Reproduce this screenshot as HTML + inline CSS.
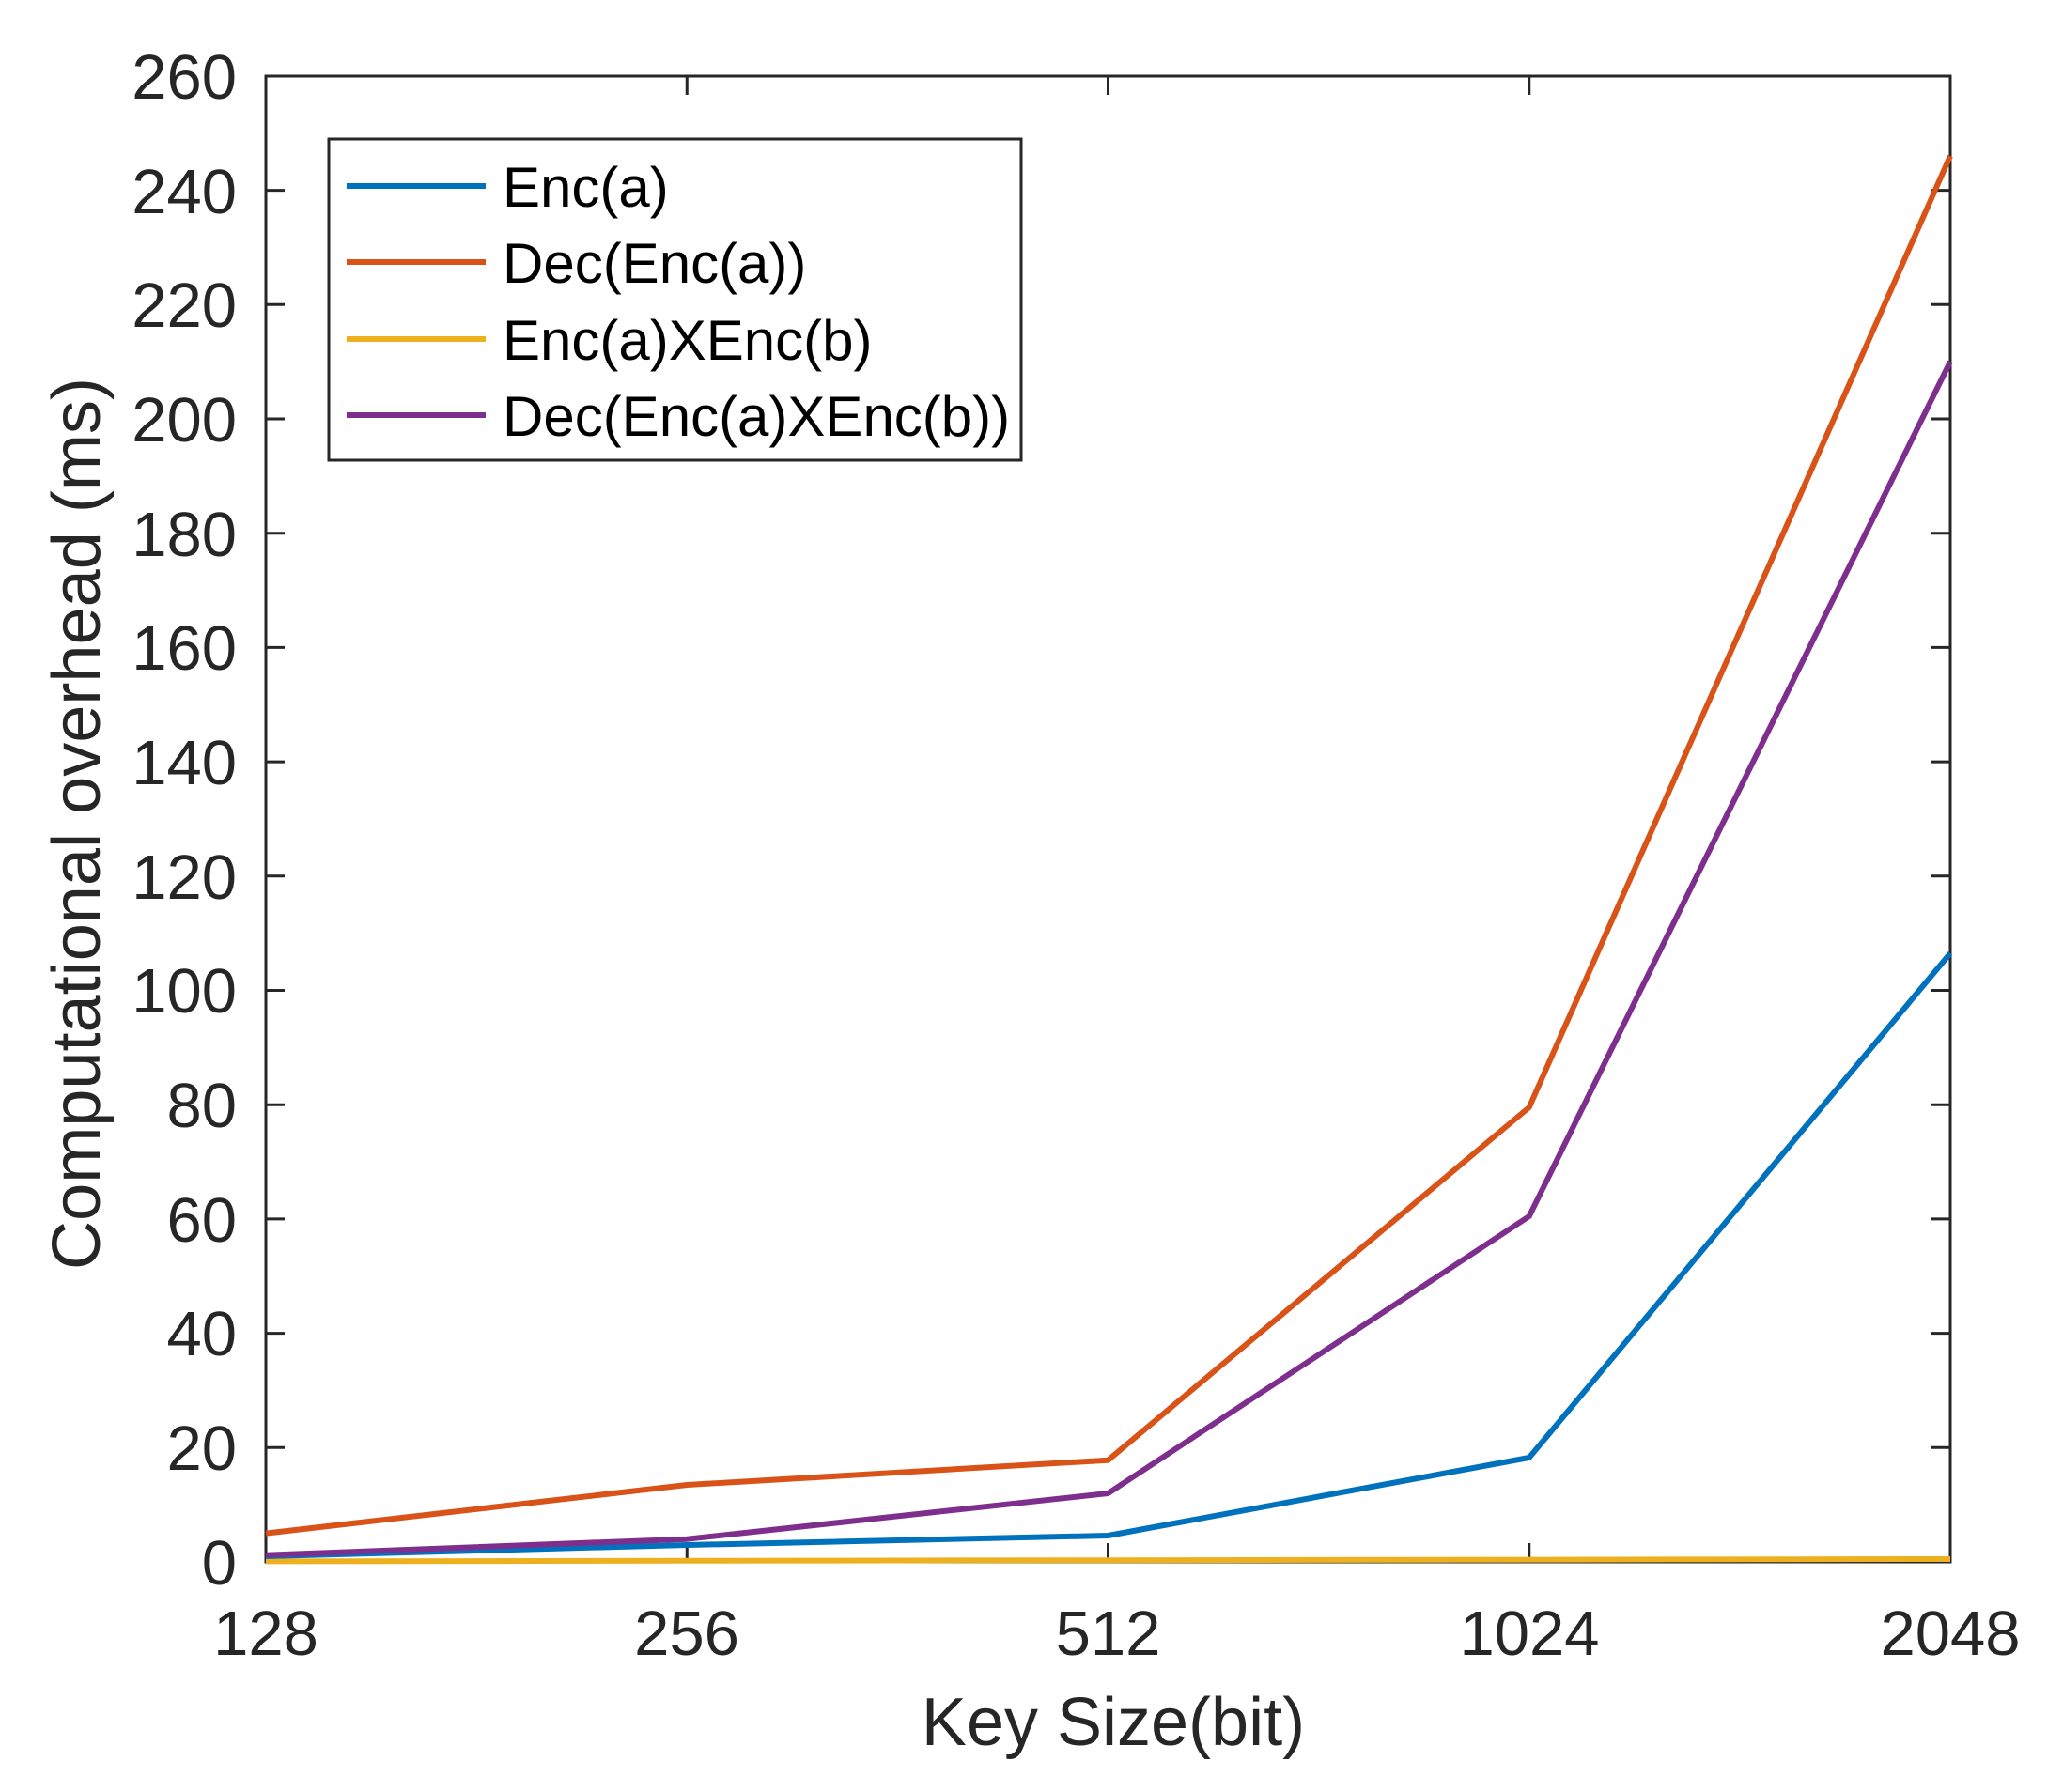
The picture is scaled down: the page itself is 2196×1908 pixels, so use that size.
<!DOCTYPE html>
<html><head><meta charset="utf-8"><style>html,body{margin:0;padding:0;background:#fff}svg{display:block}</style></head>
<body>
<svg width="2196" height="1908" viewBox="0 0 2196 1908" xmlns="http://www.w3.org/2000/svg" font-family="Liberation Sans, Arial, sans-serif" fill="#262626">
<rect width="2196" height="1908" fill="#fff"/>
<g stroke="#262626" stroke-width="3" fill="none">
<rect x="283" y="81" width="1793" height="1582"/>
<path d="M283 1663h20M283 1541.3h20M283 1419.6h20M283 1297.9h20M283 1176.2h20M283 1054.5h20M283 932.8h20M283 811.1h20M283 689.4h20M283 567.7h20M283 446h20M283 324.3h20M283 202.6h20M283 81h20
M2076 1663h-20M2076 1541.3h-20M2076 1419.6h-20M2076 1297.9h-20M2076 1176.2h-20M2076 1054.5h-20M2076 932.8h-20M2076 811.1h-20M2076 689.4h-20M2076 567.7h-20M2076 446h-20M2076 324.3h-20M2076 202.6h-20"/>
<path d="M731.25 1663v-20M1179.5 1663v-20M1627.75 1663v-20M731.25 81v20M1179.5 81v20M1627.75 81v20"/>
</g>
<g font-size="67" text-anchor="end">
<text x="252" y="1687">0</text><text x="252" y="1565">20</text><text x="252" y="1443">40</text><text x="252" y="1322">60</text><text x="252" y="1200">80</text><text x="252" y="1078">100</text><text x="252" y="957">120</text><text x="252" y="835">140</text><text x="252" y="713">160</text><text x="252" y="592">180</text><text x="252" y="470">200</text><text x="252" y="348">220</text><text x="252" y="227">240</text><text x="252" y="105">260</text>
</g>
<g font-size="67" text-anchor="middle">
<text x="283" y="1762">128</text><text x="731" y="1762">256</text><text x="1179.5" y="1762">512</text><text x="1628" y="1762">1024</text><text x="2076" y="1762">2048</text>
</g>
<text x="1185" y="1858" font-size="72" text-anchor="middle">Key Size(bit)</text>
<text transform="translate(106,877) rotate(-90)" font-size="72" text-anchor="middle" textLength="950" lengthAdjust="spacingAndGlyphs">Computational overhead (ms)</text>
<g fill="none" stroke-width="6" stroke-linejoin="round">
<polyline stroke="#EDB120" points="283,1662.4 731.25,1661.8 1179.5,1661.2 1627.75,1660.6 2076,1660"/>
<polyline stroke="#0072BD" points="283,1657 731.25,1645 1179.5,1635 1627.75,1552 2076,1015"/>
<polyline stroke="#7E2F8E" points="283,1655.7 731.25,1638.7 1179.5,1590 1627.75,1295 2076,385"/>
<polyline stroke="#D95319" points="283,1632.6 731.25,1581 1179.5,1554.7 1627.75,1179 2076,166"/>
</g>
<rect x="350" y="148" width="737" height="342" fill="#fff" stroke="#262626" stroke-width="3"/>
<g stroke-width="6">
<line x1="369" y1="198" x2="517" y2="198" stroke="#0072BD"/>
<line x1="369" y1="279" x2="517" y2="279" stroke="#D95319"/>
<line x1="369" y1="361" x2="517" y2="361" stroke="#EDB120"/>
<line x1="369" y1="442" x2="517" y2="442" stroke="#7E2F8E"/>
</g>
<g font-size="60" fill="#000">
<text x="535" y="220">Enc(a)</text>
<text x="535" y="301">Dec(Enc(a))</text>
<text x="535" y="383">Enc(a)XEnc(b)</text>
<text x="535" y="464">Dec(Enc(a)XEnc(b))</text>
</g>
</svg>
</body></html>
